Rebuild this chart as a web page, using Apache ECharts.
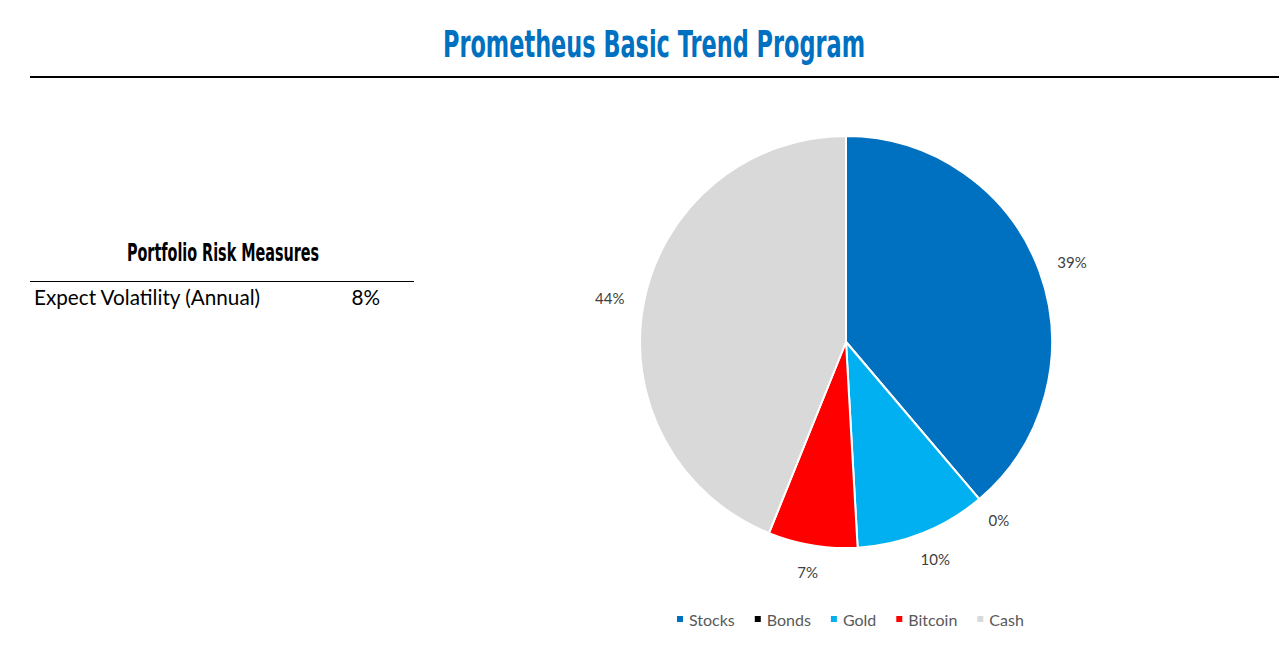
<!DOCTYPE html>
<html>
<head>
<meta charset="utf-8">
<script src="https://cdn.jsdelivr.net/npm/echarts@6/dist/echarts.min.js"></script>
<style>
html,body{margin:0;padding:0;background:#fff;}
#c{width:1283px;height:653px;}
</style>
</head>
<body>
<div id="c"></div>
<script>
const categories = ['Stocks', 'Bonds', 'Gold', 'Bitcoin', 'Cash'];
const weights = [38.8, 0, 10.3, 7.0, 43.9];
const colors = ['#0070C0', '#000000', '#00B0F0', '#FF0000', '#D9D9D9'];
const titleText = 'Prometheus Basic Trend Program';
const tableTitle = 'Portfolio Risk Measures';
const tableRowLabels = ['Expect Volatility (Annual)'];
const tableRowValues = ['8%'];

const chart = echarts.init(document.getElementById('c'), null, {renderer: 'svg'});
const condensed = "'DejaVu Sans', sans-serif";
const body = "Lato, 'Open Sans', sans-serif";
const PIE_C = [846, 342];
const PIE_R = 206;

const graphics = [
  {type: 'text', x: 654, y: 44, scaleX: 0.59, style: {text: titleText, fill: '#0070C0', font: "bold 38px " + condensed, align: 'center', verticalAlign: 'middle'}},
  {type: 'line', shape: {x1: 30, y1: 77, x2: 1279, y2: 77}, style: {stroke: '#000', lineWidth: 2}},
  {type: 'text', x: 223, y: 252, scaleX: 0.575, style: {text: tableTitle, fill: '#000', font: "bold 25px " + condensed, align: 'center', verticalAlign: 'middle'}},
  {type: 'line', shape: {x1: 30, y1: 281.5, x2: 414, y2: 281.5}, style: {stroke: '#000', lineWidth: 1}}
];
tableRowLabels.forEach((t, i) => {
  graphics.push({type: 'text', x: 34, y: 297 + i * 24, style: {text: t, fill: '#000', font: "20.7px " + body, verticalAlign: 'middle'}});
  graphics.push({type: 'text', x: 380, y: 297 + i * 24, style: {text: tableRowValues[i], fill: '#000', font: "20.7px " + body, align: 'right', verticalAlign: 'middle'}});
});

chart.setOption({
  animation: false,
  color: colors,
  graphic: graphics,
  legend: {
    data: categories,
    left: 670,
    top: 606,
    icon: 'rect',
    itemWidth: 8,
    itemHeight: 8,
    itemGap: 18,
    textStyle: {color: '#595959', fontSize: 16, fontFamily: body}
  },
  series: [{
    type: 'pie',
    center: PIE_C,
    radius: PIE_R,
    startAngle: 90,
    clockwise: true,
    avoidLabelOverlap: false,
    data: categories.map((c, i) => ({name: c, value: weights[i]})),
    itemStyle: {borderColor: '#fff', borderWidth: 2},
    label: {
      show: true,
      position: 'outside',
      formatter: p => Math.round(p.value) + '%',
      color: '#404040',
      fontSize: 15,
      fontFamily: body
    },
    labelLine: {show: false, length: 16, length2: 0},
    labelLayout: function (p) {
      let px, py;
      if (p.labelLinePoints && p.labelLinePoints.length) {
        px = p.labelLinePoints[0][0]; py = p.labelLinePoints[0][1];
      } else {
        px = p.labelRect.x + p.labelRect.width / 2; py = p.labelRect.y + p.labelRect.height / 2;
      }
      let ux = px - PIE_C[0], uy = py - PIE_C[1];
      const len = Math.sqrt(ux * ux + uy * uy) || 1;
      ux /= len; uy /= len;
      const w = p.labelRect.width, h = p.labelRect.height;
      return {
        x: PIE_C[0] + ux * (PIE_R + 20) + ux * w / 2,
        y: PIE_C[1] + uy * (PIE_R + 20) + uy * h / 2,
        align: 'center',
        verticalAlign: 'middle'
      };
    },
    emphasis: {disabled: true}
  }]
});
</script>
</body>
</html>
